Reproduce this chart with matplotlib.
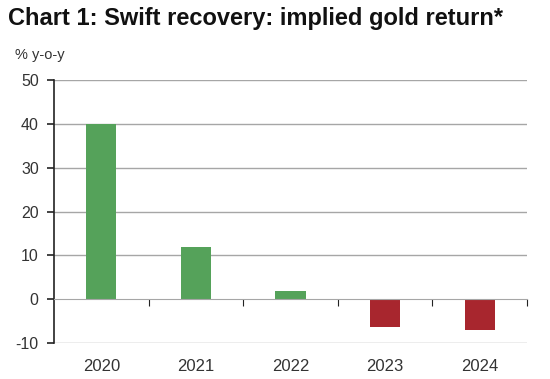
import matplotlib
matplotlib.use('Agg')
import matplotlib.pyplot as plt

# Chart data
years = ['2020', '2021', '2022', '2023', '2024']
returns = [40.0, 11.8, 1.8, -6.4, -7.0]
y_ticks = [-10, 0, 10, 20, 30, 40, 50]

plt.rcParams['font.family'] = ['Liberation Sans', 'DejaVu Sans']

green = '#55A25A'
red = '#A8262E'
grid_col = '#A6A6A6'
text_col = '#333333'

fig = plt.figure(figsize=(5.5, 3.79), dpi=100)
ax = fig.add_axes([54 / 550, 36 / 379, 473 / 550, 263 / 379])

x = list(range(len(years)))
colors = [green if v >= 0 else red for v in returns]
ax.bar(x, returns, width=0.32, color=colors, zorder=3)

ax.set_xlim(-0.5, len(years) - 0.5)
ax.set_ylim(-10, 50)
ax.set_yticks(y_ticks)
ax.set_yticklabels([str(t) for t in y_ticks], fontsize=11.5, color=text_col)
for t in y_ticks:
    if t != 0:
        ax.axhline(t, color=grid_col, lw=1, zorder=1)

# zero line acts as the x axis, ticks sit on the category boundaries
ax.spines['bottom'].set_position(('data', 0))
ax.spines['bottom'].set_color(grid_col)
ax.spines['bottom'].set_zorder(4)
ax.set_xticks([i + 0.5 for i in x])
ax.tick_params(axis='x', direction='out', length=5, color='#222222', labelbottom=False)
ax.tick_params(axis='y', direction='out', length=5, color='#222222', width=1.2, pad=6)
ax.spines['left'].set_color('#222222')
ax.spines['left'].set_linewidth(1.2)
ax.spines['top'].set_visible(False)
ax.spines['right'].set_visible(False)

for i, yr in zip(x, years):
    ax.text(i, -13.6, yr, ha='center', va='top', fontsize=12, color=text_col)

fig.text(8 / 550, 1 - 18 / 379, 'Chart 1: Swift recovery: implied gold return*',
         fontsize=17, fontweight='bold', va='center', ha='left', color='#111111')
fig.text(15 / 550, 1 - 55 / 379, '% y-o-y', fontsize=10.5, va='center', ha='left', color=text_col)

fig.savefig('out.png', dpi=100)
